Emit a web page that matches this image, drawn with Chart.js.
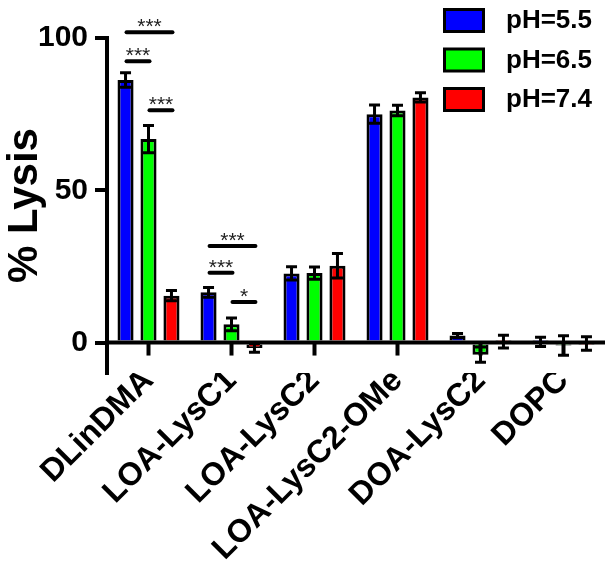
<!DOCTYPE html>
<html><head><meta charset="utf-8">
<script src="https://cdn.jsdelivr.net/npm/chart.js@4/dist/chart.umd.min.js"></script>
<style>html,body{margin:0;padding:0;background:#fff}#wrap{width:612px;height:572px}</style>
</head><body><div id="wrap"><canvas id="c" width="612" height="572"></canvas></div>
<script>
const categories = ['DLinDMA', 'LOA-LysC1', 'LOA-LysC2', 'LOA-LysC2-OMe', 'DOA-LysC2', 'DOPC'];
const seriesNames = ['pH=5.5', 'pH=6.5', 'pH=7.4'];
const seriesColors = ['#0000FF', '#00FF00', '#FF0000'];
const ph55 = [86.2, 16.5, 22.7, 75.0, 2.3, 0.2];
const ph65 = [66.8, 6.0, 22.8, 76.2, -4.0, -1.0];
const ph74 = [15.4, -1.8, 25.2, 80.5, 0.3, -0.3];
const err55 = [2.4, 1.6, 2.2, 3.0, 0.7, 1.5];
const err65 = [4.5, 2.1, 2.0, 1.7, 2.5, 3.2];
const err74 = [1.7, 1.4, 4.0, 1.5, 2.1, 2.2];
const yTicks = [0, 50, 100];
// significance brackets: category index, from series, to series, level (% Lysis), label
const sigCategory = [0, 0, 0, 1, 1, 1];
const sigFrom = [0, 0, 1, 0, 0, 1];
const sigTo = [1, 2, 2, 2, 1, 2];
const sigLevel = [92.4, 101.9, 76.3, 31.7, 22.9, 13.3];
const sigText = ['***', '***', '***', '***', '***', '*'];

const FONT = "'Liberation Sans', Arial, Helvetica, sans-serif";
const values = [ph55, ph65, ph74];
const errors = [err55, err65, err74];

const extras = {
  id: 'extras',
  afterDatasetsDraw(chart) {
    const ctx = chart.ctx, ys = chart.scales.y, xs = chart.scales.x;
    ctx.save();
    ctx.strokeStyle = '#000';
    // error bars
    ctx.lineWidth = 3; ctx.lineCap = 'butt';
    chart.data.datasets.forEach((ds, d) => {
      const meta = chart.getDatasetMeta(d);
      meta.data.forEach((bar, i) => {
        const v = ds.data[i], e = errors[d][i];
        const yt = ys.getPixelForValue(v + e), yb = ys.getPixelForValue(v - e);
        ctx.beginPath();
        ctx.moveTo(bar.x, yt); ctx.lineTo(bar.x, yb);
        ctx.moveTo(bar.x - 5.5, yt); ctx.lineTo(bar.x + 5.5, yt);
        ctx.moveTo(bar.x - 5.5, yb); ctx.lineTo(bar.x + 5.5, yb);
        ctx.stroke();
      });
    });
    // x axis line at zero and category ticks
    const y0 = ys.getPixelForValue(0);
    ctx.lineWidth = 4;
    ctx.beginPath(); ctx.moveTo(chart.chartArea.left, y0); ctx.lineTo(chart.chartArea.right, y0); ctx.stroke();
    categories.forEach((c, i) => {
      const px = xs.getPixelForValue(i);
      ctx.beginPath(); ctx.moveTo(px, y0); ctx.lineTo(px, y0 + 13); ctx.stroke();
    });
    // significance brackets
    ctx.lineCap = 'round'; ctx.lineWidth = 4;
    ctx.fillStyle = '#222';
    ctx.font = '21px ' + FONT; ctx.textAlign = 'center'; ctx.textBaseline = 'alphabetic';
    sigCategory.forEach((c, k) => {
      const x1 = chart.getDatasetMeta(sigFrom[k]).data[c].x + 1;
      const x2 = chart.getDatasetMeta(sigTo[k]).data[c].x + 1;
      const py = ys.getPixelForValue(sigLevel[k]);
      ctx.beginPath(); ctx.moveTo(x1, py); ctx.lineTo(x2, py); ctx.stroke();
      ctx.fillText(sigText[k], (x1 + x2) / 2, py + 1);
    });
    ctx.restore();
  },
  afterDraw(chart) {
    const ctx = chart.ctx;
    ctx.save();
    ctx.font = 'bold 26px ' + FONT; ctx.textAlign = 'left'; ctx.textBaseline = 'middle';
    seriesNames.forEach((name, i) => {
      const top = 8 + i * 39.5;
      ctx.fillStyle = seriesColors[i];
      ctx.fillRect(444.5, top + 1.5, 39, 22);
      ctx.lineWidth = 3; ctx.strokeStyle = '#000';
      ctx.strokeRect(444.5, top + 1.5, 39, 22);
      ctx.fillStyle = '#000';
      ctx.fillText(name, 506, top + 13);
    });
    ctx.restore();
  }
};

new Chart(document.getElementById('c'), {
  type: 'bar',
  data: {
    labels: categories,
    datasets: values.map((v, i) => ({
      label: seriesNames[i], data: v,
      backgroundColor: seriesColors[i], borderColor: '#000', borderWidth: 3,
      categoryPercentage: 0.83, barPercentage: 0.7
    }))
  },
  options: {
    responsive: false, animation: false, devicePixelRatio: 1,
    layout: { padding: { left: 0, right: 7, top: 38, bottom: 0 } },
    plugins: { legend: { display: false }, tooltip: { enabled: false } },
    scales: {
      x: {
        grid: { display: false, drawTicks: false },
        border: { display: false },
        ticks: { color: '#000', font: { family: FONT, size: 32, weight: 'bold' }, maxRotation: 45, minRotation: 45, autoSkip: false, padding: -11 },
        afterFit: (s) => { s.height = 199; }
      },
      y: {
        min: -10, max: 100,
        afterBuildTicks: (s) => { s.ticks = yTicks.map(v => ({ value: v })); },
        grid: { color: 'rgba(0,0,0,0)', tickColor: '#000', lineWidth: 4, tickWidth: 4, tickLength: 12, drawTicks: true },
        border: { display: true, color: '#000', width: 4 },
        ticks: { color: '#000', font: { family: FONT, size: 30, weight: 'bold' }, padding: 7 },
        title: { display: true, text: '% Lysis', color: '#000', font: { family: FONT, size: 42, weight: 'bold' }, padding: 0 },
        afterFit: (s) => { s.width = 107; }
      }
    }
  },
  plugins: [extras]
});
</script></body></html>
